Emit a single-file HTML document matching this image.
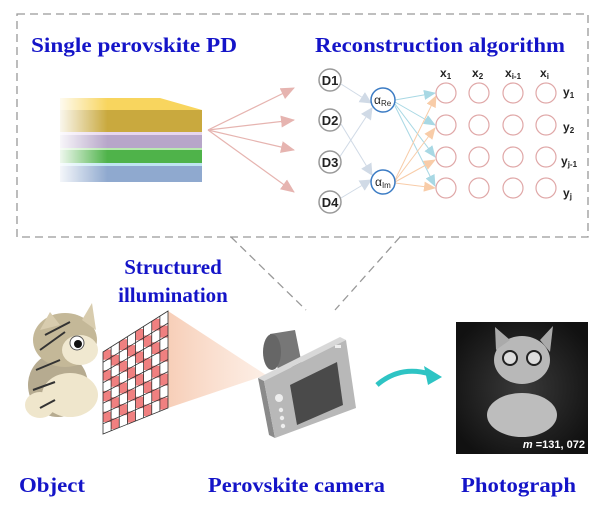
<!DOCTYPE html>
<html><head><meta charset="utf-8"><style>
html,body{margin:0;padding:0;background:#fff;}
svg{display:block;}
.t{font-family:"Liberation Serif",serif;font-weight:bold;fill:#1414c8;font-size:21px;}
.s{font-family:"Liberation Sans",sans-serif;font-weight:bold;fill:#222;}
</style></head><body>
<svg width="600" height="511" viewBox="0 0 600 511" xmlns="http://www.w3.org/2000/svg">
<defs>
<linearGradient id="fy" x1="0" x2="1"><stop offset="0" stop-color="#fff" stop-opacity="1"/><stop offset="0.35" stop-color="#fff" stop-opacity="0"/></linearGradient>
<marker id="ap" markerWidth="14" markerHeight="12" refX="13" refY="6" orient="auto" markerUnits="userSpaceOnUse"><path d="M0,0 L14,6 L0,12z" fill="#e6b4b0"/></marker>
<marker id="ag" markerWidth="12" markerHeight="12" refX="11" refY="6" orient="auto" markerUnits="userSpaceOnUse"><path d="M0,0 L12,6 L0,12z" fill="#d0dae6"/></marker>
<marker id="ab" markerWidth="12" markerHeight="10" refX="11" refY="5" orient="auto" markerUnits="userSpaceOnUse"><path d="M0,0 L12,5 L0,10z" fill="#a8d8e4"/></marker>
<marker id="ao" markerWidth="12" markerHeight="10" refX="11" refY="5" orient="auto" markerUnits="userSpaceOnUse"><path d="M0,0 L12,5 L0,10z" fill="#f8cca8"/></marker>
<linearGradient id="cone" x1="0" x2="1"><stop offset="0" stop-color="#f6c9b0" stop-opacity="0.9"/><stop offset="1" stop-color="#fbe3d4" stop-opacity="0.6"/></linearGradient>
<radialGradient id="ph" cx="0.5" cy="0.5" r="0.6"><stop offset="0" stop-color="#3a3a3a"/><stop offset="1" stop-color="#111"/></radialGradient>
<clipPath id="cg"><polygon points="103,352 168,311 168,408 103,434"/></clipPath>
</defs>
<rect x="17" y="14" width="571" height="223" fill="none" stroke="#999" stroke-width="1.3" stroke-dasharray="8,5"/>
<line x1="231" y1="237" x2="306" y2="310" stroke="#999" stroke-width="1.3" stroke-dasharray="8,5"/>
<line x1="400" y1="237" x2="335" y2="310" stroke="#999" stroke-width="1.3" stroke-dasharray="8,5"/>
<text class="t" x="31" y="52" textLength="206" lengthAdjust="spacingAndGlyphs">Single perovskite PD</text>
<text class="t" x="315" y="52" textLength="250" lengthAdjust="spacingAndGlyphs">Reconstruction algorithm</text>
<g>
<rect x="60" y="166" width="142" height="16" fill="#8fa9cf"/>
<rect x="60" y="163" width="142" height="3" fill="#bfe6f0"/>
<rect x="60" y="150" width="142" height="13" fill="#4fb34a"/>
<rect x="60" y="148" width="142" height="2" fill="#b8eab0"/>
<rect x="60" y="135" width="142" height="13" fill="#b7a6c9"/>
<rect x="60" y="132" width="142" height="3" fill="#e6d6ee"/>
<rect x="60" y="110" width="142" height="22" fill="#c9a93e"/>
<polygon points="60,98 160,98 202,110 60,110" fill="#f8d55e"/>
<rect x="55" y="95" width="150" height="90" fill="url(#fy)"/>
</g>
<g stroke="#e6b4b0" stroke-width="1.2" marker-end="url(#ap)">
<line x1="208" y1="130" x2="294" y2="88"/>
<line x1="208" y1="130" x2="294" y2="120"/>
<line x1="208" y1="130" x2="294" y2="150"/>
<line x1="208" y1="130" x2="294" y2="192"/>
</g>
<g stroke="#d0dae6" stroke-width="1" marker-end="url(#ag)">
<line x1="341" y1="84" x2="371" y2="103"/>
<line x1="339" y1="158" x2="372" y2="108"/>
<line x1="341" y1="124" x2="372" y2="175"/>
<line x1="341" y1="198" x2="371" y2="180"/>
</g>
<g stroke="#a8d8e4" stroke-width="1" marker-end="url(#ab)">
<line x1="395" y1="100" x2="435" y2="93"/>
<line x1="395" y1="102" x2="435" y2="125"/>
<line x1="395" y1="104" x2="435" y2="157"/>
<line x1="395" y1="106" x2="435" y2="186"/>
</g>
<g stroke="#f8cca8" stroke-width="1" marker-end="url(#ao)">
<line x1="395" y1="180" x2="436" y2="96"/>
<line x1="395" y1="181" x2="435" y2="128"/>
<line x1="395" y1="182" x2="435" y2="160"/>
<line x1="395" y1="183" x2="435" y2="188"/>
</g>
<g fill="#fff" stroke="#999" stroke-width="1.5">
<circle cx="330" cy="80" r="11"/><circle cx="330" cy="120" r="11"/><circle cx="330" cy="162" r="11"/><circle cx="330" cy="202" r="11"/>
</g>
<g class="s" font-size="13" text-anchor="middle">
<text x="330" y="85">D1</text><text x="330" y="125">D2</text><text x="330" y="167">D3</text><text x="330" y="207">D4</text>
</g>
<circle cx="383" cy="100" r="12" fill="#fff" stroke="#3c7cc4" stroke-width="1.5"/>
<circle cx="383" cy="182" r="12" fill="#fff" stroke="#3c7cc4" stroke-width="1.5"/>
<text x="374" y="104" font-family="Liberation Sans,sans-serif" font-size="12" fill="#222">α<tspan font-size="8" dy="2">Re</tspan></text>
<text x="375" y="186" font-family="Liberation Sans,sans-serif" font-size="12" fill="#222">α<tspan font-size="8" dy="2">Im</tspan></text>
<g fill="none" stroke="#e0a8a8" stroke-width="1.2">
<circle cx="446" cy="93" r="10"/><circle cx="479" cy="93" r="10"/><circle cx="513" cy="93" r="10"/><circle cx="546" cy="93" r="10"/>
<circle cx="446" cy="125" r="10"/><circle cx="479" cy="125" r="10"/><circle cx="513" cy="125" r="10"/><circle cx="546" cy="125" r="10"/>
<circle cx="446" cy="157" r="10"/><circle cx="479" cy="157" r="10"/><circle cx="513" cy="157" r="10"/><circle cx="546" cy="157" r="10"/>
<circle cx="446" cy="188" r="10"/><circle cx="479" cy="188" r="10"/><circle cx="513" cy="188" r="10"/><circle cx="546" cy="188" r="10"/>
</g>
<g class="s" font-size="12">
<text x="440" y="77">x<tspan font-size="8" dy="2">1</tspan></text>
<text x="472" y="77">x<tspan font-size="8" dy="2">2</tspan></text>
<text x="505" y="77">x<tspan font-size="8" dy="2">i-1</tspan></text>
<text x="540" y="77">x<tspan font-size="8" dy="2">i</tspan></text>
<text x="563" y="96">y<tspan font-size="8" dy="2">1</tspan></text>
<text x="563" y="131">y<tspan font-size="8" dy="2">2</tspan></text>
<text x="561" y="165">y<tspan font-size="8" dy="2">j-1</tspan></text>
<text x="563" y="197">y<tspan font-size="8" dy="2">j</tspan></text>
</g>
<text class="t" x="173" y="274" text-anchor="middle">Structured</text>
<text class="t" x="173" y="302" text-anchor="middle">illumination</text>
<g>
<ellipse cx="58" cy="385" rx="30" ry="32" fill="#b6ab90"/>
<ellipse cx="70" cy="395" rx="28" ry="22" fill="#efe6cc"/>
<ellipse cx="40" cy="405" rx="15" ry="13" fill="#efe6cc"/>
<ellipse cx="65" cy="340" rx="32" ry="27" fill="#c4b898"/>
<ellipse cx="80" cy="350" rx="18" ry="15" fill="#f0e8d0"/>
<polygon points="40,330 50,312 60,325" fill="#d8ccae"/>
<polygon points="82,320 92,303 96,330" fill="#d8ccae"/>
<g stroke="#333" stroke-width="2"><line x1="45" y1="335" x2="70" y2="322"/><line x1="40" y1="350" x2="65" y2="332"/><line x1="36" y1="370" x2="60" y2="360"/><line x1="33" y1="390" x2="55" y2="382"/><line x1="40" y1="408" x2="55" y2="400"/></g>
<circle cx="77" cy="343" r="7" fill="#fff" stroke="#555"/><circle cx="78" cy="344" r="4" fill="#111"/>
</g>
<polygon points="168,311 266,375 168,408" fill="url(#cone)"/>
<polygon points="103,352 168,311 168,408 103,434" fill="#fff"/>
<g clip-path="url(#cg)" stroke="#f08080">
<line x1="107.06" y1="349.44" x2="107.06" y2="432.4" stroke-width="8.2" stroke-dasharray="10.37 10.37"/>
<line x1="115.19" y1="344.31" x2="115.19" y2="429.1" stroke-width="8.2" stroke-dasharray="10.60 10.60" stroke-dashoffset="10.60"/>
<line x1="123.31" y1="339.19" x2="123.31" y2="425.9" stroke-width="8.2" stroke-dasharray="10.84 10.84"/>
<line x1="131.44" y1="334.06" x2="131.44" y2="422.7" stroke-width="8.2" stroke-dasharray="11.07 11.07" stroke-dashoffset="11.07"/>
<line x1="139.56" y1="328.94" x2="139.56" y2="419.4" stroke-width="8.2" stroke-dasharray="11.31 11.31"/>
<line x1="147.69" y1="323.81" x2="147.69" y2="416.1" stroke-width="8.2" stroke-dasharray="11.54 11.54" stroke-dashoffset="11.54"/>
<line x1="155.81" y1="318.69" x2="155.81" y2="412.9" stroke-width="8.2" stroke-dasharray="11.78 11.78"/>
<line x1="163.94" y1="313.56" x2="163.94" y2="409.7" stroke-width="8.2" stroke-dasharray="12.01 12.01" stroke-dashoffset="12.01"/>
</g>
<g stroke="#333" stroke-width="0.8" fill="none">
<polygon points="103,352 168,311 168,408 103,434"/>
<line x1="111.1" y1="346.9" x2="111.1" y2="430.8"/>
<line x1="119.25" y1="341.75" x2="119.25" y2="427.5"/>
<line x1="127.4" y1="336.6" x2="127.4" y2="424.2"/>
<line x1="135.5" y1="331.5" x2="135.5" y2="421"/>
<line x1="143.6" y1="326.4" x2="143.6" y2="417.8"/>
<line x1="151.75" y1="321.25" x2="151.75" y2="414.5"/>
<line x1="159.9" y1="316.1" x2="159.9" y2="411.2"/>
<line x1="103" y1="362.25" x2="168" y2="323.1"/>
<line x1="103" y1="372.5" x2="168" y2="335.25"/>
<line x1="103" y1="382.75" x2="168" y2="347.4"/>
<line x1="103" y1="393" x2="168" y2="359.5"/>
<line x1="103" y1="403.25" x2="168" y2="371.6"/>
<line x1="103" y1="413.5" x2="168" y2="383.75"/>
<line x1="103" y1="423.75" x2="168" y2="395.9"/>
</g>
<polygon points="270,334 295,330 302,365 278,370" fill="#777"/>
<ellipse cx="272" cy="352" rx="9" ry="18" fill="#666"/>
<polygon points="258,378 340,337 346,340 264,381" fill="#d8d8d8"/>
<polygon points="258,378 264,381 275,438 269,435" fill="#8a8a8a"/>
<polygon points="264,381 346,340 356,408 275,438" fill="#b8b8b8"/>
<polygon points="290,385 337,362 343,405 297,425" fill="#4a4a4a"/>
<rect x="335" y="345" width="6" height="3" fill="#eee"/>
<g fill="#eee"><circle cx="279" cy="398" r="4"/><circle cx="281" cy="410" r="2.2"/><circle cx="282" cy="418" r="2.2"/><circle cx="283" cy="426" r="2.2"/></g>
<path d="M377,385 Q400,365 430,374" fill="none" stroke="#2ec4c4" stroke-width="5"/>
<polygon points="442,377 424,366 428,385" fill="#2ec4c4"/>
<rect x="456" y="322" width="132" height="132" fill="url(#ph)"/>
<ellipse cx="522" cy="360" rx="28" ry="24" fill="#b8b8b8"/>
<ellipse cx="522" cy="415" rx="35" ry="22" fill="#bdbdbd"/>
<polygon points="496,350 495,327 510,340" fill="#aaa"/><polygon points="540,340 553,326 550,352" fill="#aaa"/>
<circle cx="510" cy="358" r="7" fill="#ddd" stroke="#222" stroke-width="2"/><circle cx="534" cy="358" r="7" fill="#ddd" stroke="#222" stroke-width="2"/>
<text x="585" y="448" text-anchor="end" font-family="Liberation Sans,sans-serif" font-weight="bold" font-size="11" fill="#fff"><tspan font-style="italic">m</tspan> =131, 072</text>
<text class="t" x="19" y="492" textLength="66" lengthAdjust="spacingAndGlyphs">Object</text>
<text class="t" x="208" y="492" textLength="177" lengthAdjust="spacingAndGlyphs">Perovskite camera</text>
<text class="t" x="461" y="492" textLength="115" lengthAdjust="spacingAndGlyphs">Photograph</text>
</svg>
</body></html>
